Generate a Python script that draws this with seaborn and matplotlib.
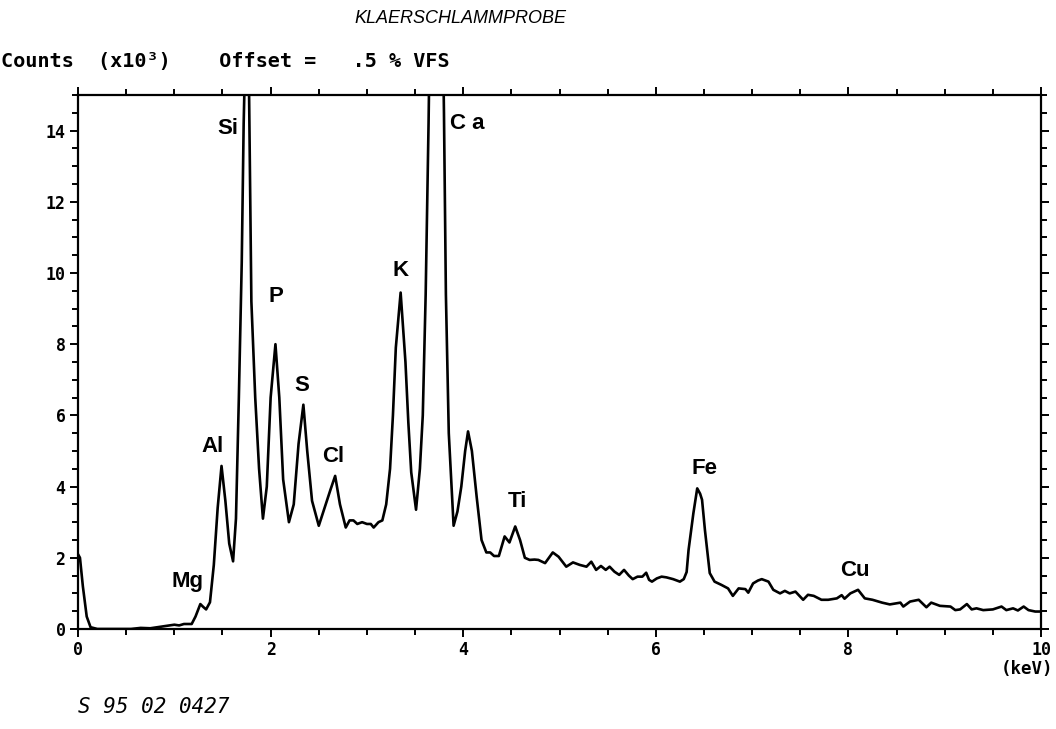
import numpy as np
import pandas as pd
import matplotlib as mpl
import matplotlib.pyplot as plt
from matplotlib.ticker import MultipleLocator
import seaborn as sb

# spectrum: energy (keV) and counts (x10^3)
energy = [0.00, 0.02, 0.05, 0.09, 0.13, 0.20, 0.40, 0.55, 0.65, 0.75, 0.85, 0.95, 1.00, 1.05,
          1.10, 1.18, 1.22, 1.27, 1.30, 1.33, 1.37, 1.41, 1.45, 1.49, 1.53, 1.57, 1.61, 1.64,
          1.67, 1.70, 1.72, 1.76, 1.80, 1.84, 1.88, 1.92, 1.96, 2.00, 2.05, 2.09, 2.13, 2.19,
          2.24, 2.29, 2.34, 2.38, 2.43, 2.50, 2.56, 2.62, 2.67, 2.72, 2.78, 2.82, 2.86, 2.90,
          2.95, 3.00, 3.04, 3.07, 3.12, 3.16, 3.20, 3.24, 3.27, 3.30, 3.35, 3.40, 3.43, 3.46,
          3.51, 3.55, 3.58, 3.61, 3.64, 3.72, 3.80, 3.82, 3.85, 3.90, 3.94, 3.98, 4.02, 4.05,
          4.09, 4.14, 4.19, 4.24, 4.28, 4.32, 4.37, 4.43, 4.48, 4.54, 4.59, 4.64, 4.69, 4.74,
          4.78, 4.85, 4.93, 4.99, 5.07, 5.14, 5.21, 5.28, 5.33, 5.38, 5.43, 5.48, 5.52, 5.57,
          5.62, 5.67, 5.72, 5.76, 5.81, 5.86, 5.90, 5.93, 5.96, 6.01, 6.06, 6.11, 6.18, 6.25,
          6.29, 6.32, 6.34, 6.39, 6.43, 6.46, 6.48, 6.51, 6.56, 6.61, 6.68, 6.75, 6.80, 6.86,
          6.93, 6.96, 7.01, 7.06, 7.10, 7.17, 7.22, 7.29, 7.34, 7.39, 7.45, 7.53, 7.58, 7.64,
          7.72, 7.79, 7.88, 7.93, 7.96, 8.02, 8.10, 8.17, 8.25, 8.35, 8.43, 8.50, 8.54, 8.57,
          8.64, 8.73, 8.81, 8.86, 8.95, 9.06, 9.11, 9.16, 9.23, 9.28, 9.33, 9.40, 9.50, 9.59,
          9.64, 9.71, 9.76, 9.82, 9.87, 9.94, 9.99]
counts = [2.10, 2.00, 1.20, 0.35, 0.05, 0.00, 0.00, 0.00, 0.03, 0.02, 0.06, 0.10, 0.12, 0.10,
          0.14, 0.14, 0.35, 0.70, 0.62, 0.55, 0.75, 1.80, 3.40, 4.58, 3.60, 2.40, 1.90, 3.10,
          6.50, 10.3, 14.2, 19.0, 9.20, 6.50, 4.50, 3.10, 4.00, 6.50, 8.00, 6.50, 4.20, 3.00,
          3.50, 5.20, 6.30, 5.00, 3.60, 2.90, 3.40, 3.90, 4.30, 3.50, 2.85, 3.05, 3.05, 2.95,
          3.00, 2.95, 2.95, 2.85, 3.00, 3.05, 3.50, 4.50, 6.00, 7.90, 9.45, 7.50, 5.80, 4.40,
          3.35, 4.50, 6.00, 9.40, 14.2, 30.0, 14.5, 9.40, 5.50, 2.90, 3.30, 4.00, 5.00, 5.55,
          5.00, 3.70, 2.50, 2.15, 2.15, 2.05, 2.05, 2.60, 2.43, 2.88, 2.50, 2.00, 1.94, 1.95,
          1.94, 1.85, 2.15, 2.03, 1.75, 1.87, 1.80, 1.75, 1.89, 1.66, 1.77, 1.66, 1.75, 1.61,
          1.52, 1.66, 1.50, 1.40, 1.47, 1.47, 1.58, 1.38, 1.33, 1.42, 1.47, 1.45, 1.40, 1.33,
          1.40, 1.60, 2.22, 3.25, 3.95, 3.80, 3.63, 2.78, 1.57, 1.33, 1.24, 1.14, 0.93, 1.14,
          1.12, 1.02, 1.28, 1.36, 1.40, 1.33, 1.10, 1.00, 1.07, 1.00, 1.05, 0.82, 0.96, 0.93,
          0.82, 0.82, 0.86, 0.95, 0.85, 1.00, 1.10, 0.86, 0.82, 0.74, 0.69, 0.72, 0.74, 0.63,
          0.77, 0.82, 0.61, 0.74, 0.65, 0.63, 0.53, 0.55, 0.70, 0.55, 0.58, 0.53, 0.55, 0.63,
          0.53, 0.58, 0.52, 0.63, 0.53, 0.49, 0.49]

# element labels and where they sit
elements = ['Mg', 'Al', 'Si', 'P', 'S', 'Cl', 'K', 'Ca', 'Ti', 'Fe', 'Cu']
label_text = ['Mg', 'Al', 'Si', 'P', 'S', 'Cl', 'K', 'C a', 'Ti', 'Fe', 'Cu']
label_x = [1.14, 1.40, 1.56, 2.06, 2.32, 2.65, 3.35, 4.04, 4.56, 6.51, 8.07]
label_y = [1.32, 5.13, 14.05, 9.35, 6.85, 4.85, 10.07, 14.2, 3.58, 4.51, 1.63]

xticks = [0, 2, 4, 6, 8, 10]
yticks = [0, 2, 4, 6, 8, 10, 12, 14]

sb.set_style('ticks')
mpl.rcParams['font.family'] = ['DejaVu Sans Mono']
mpl.rcParams['text.color'] = 'black'
mpl.rcParams['xtick.color'] = 'black'
mpl.rcParams['ytick.color'] = 'black'

df = pd.DataFrame({'keV': energy, 'counts': counts})

fig = plt.figure(figsize=(10.56, 7.29), dpi=100)
ax = fig.add_axes([0.0739, 0.1372, 0.9119, 0.7325])
sb.lineplot(data=df, x='keV', y='counts', sort=False, estimator=None,
            color='black', linewidth=1.9, ax=ax)

ax.set_xlim(0, 10)
ax.set_ylim(0, 15)
ax.set_xlabel('')
ax.set_ylabel('')
ax.set_xticks(xticks)
ax.set_yticks(yticks)
ax.xaxis.set_minor_locator(MultipleLocator(0.5))
ax.yaxis.set_minor_locator(MultipleLocator(0.5))
ax.tick_params(which='both', direction='out', top=True, right=True, width=1.4)
ax.tick_params(which='major', length=6, labelsize=12, pad=3)
ax.tick_params(which='minor', length=4)
for lab in ax.get_xticklabels() + ax.get_yticklabels():
    lab.set_fontweight('bold')
for sp in ax.spines.values():
    sp.set_linewidth(1.6)
    sp.set_color('black')

for txt, lx, ly in zip(label_text, label_x, label_y):
    ax.text(lx, ly, txt, ha='center', va='center', fontsize=16, fontweight='bold',
            family='Liberation Sans')

fig.text(0.436, 0.975, 'KLAERSCHLAMMPROBE', ha='center', va='center', fontsize=13,
         style='italic', family='Liberation Sans')
fig.text(0.001, 0.915, 'Counts  (x10³)    Offset =   .5 % VFS', ha='left', va='center',
         fontsize=14.5, fontweight='bold')
fig.text(0.997, 0.082, '(keV)', ha='right', va='center', fontsize=12.5, fontweight='bold')
fig.text(0.0739, 0.03, 'S 95 02 0427', ha='left', va='center', fontsize=15,
         style='italic')

fig.savefig('out.png', dpi=100, facecolor='white')
